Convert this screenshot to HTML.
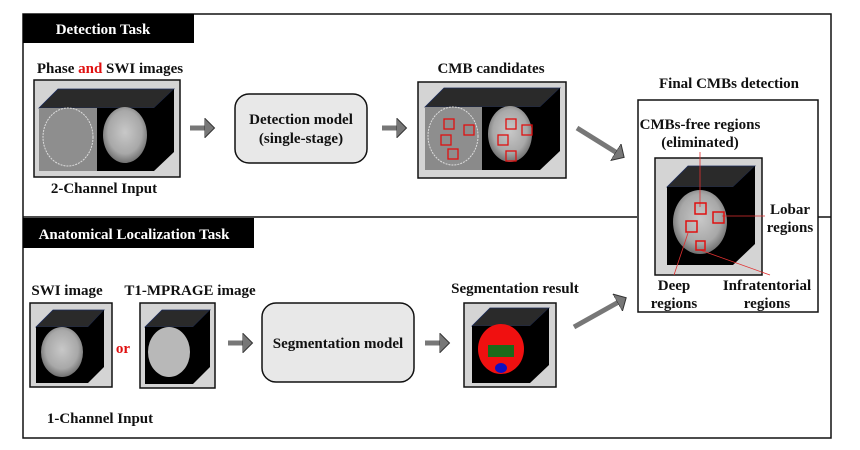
<!DOCTYPE html>
<html><head><meta charset="utf-8">
<style>
html,body{margin:0;padding:0;background:#fff;}
svg{display:block;}
text{font-family:"Liberation Serif",serif;font-weight:bold;fill:#111;}
</style></head><body>
<svg width="860" height="450" viewBox="0 0 860 450" xmlns="http://www.w3.org/2000/svg">
<defs>
<radialGradient id="br" cx="50%" cy="45%" r="55%">
<stop offset="0" stop-color="#c8c8c8"/><stop offset="0.7" stop-color="#a8a8a8"/><stop offset="1" stop-color="#707070"/>
</radialGradient>
<marker id="ah" markerWidth="4" markerHeight="4" refX="1.5" refY="2" orient="auto" markerUnits="strokeWidth">
<path d="M0,0 L2,2 L0,4 z" fill="#777" stroke="#333" stroke-width="0.2"/>
</marker>
</defs>

<rect x="23" y="14" width="808" height="424" fill="#fff" stroke="#111" stroke-width="1.5"/>
<line x1="23" y1="217" x2="637" y2="217" stroke="#111" stroke-width="1.5"/>
<line x1="818" y1="217" x2="831" y2="217" stroke="#111" stroke-width="1.5"/>

<rect x="23" y="14" width="171" height="29" fill="#000"/>
<text x="103" y="34" text-anchor="middle" font-size="15" style="fill:#fff">Detection Task</text>
<rect x="23" y="218" width="231" height="30" fill="#000"/>
<text x="134" y="239" text-anchor="middle" font-size="15" style="fill:#fff">Anatomical Localization Task</text>

<text x="110" y="73" text-anchor="middle" font-size="15">Phase <tspan style="fill:#e01010">and</tspan> SWI images</text>
<rect x="34" y="80" width="146" height="97" fill="#d4d4d4" stroke="#111" stroke-width="1.5"/>
<polygon points="39,108 58,89 174,89 154,108" fill="#2a2a2a" stroke="#1a2a5a" stroke-width="0.8"/>
<polygon points="154,108 174,89 174,152 154,171" fill="#000"/>
<rect x="39" y="108" width="58" height="63" fill="#8a8a8a"/>
<rect x="97" y="108" width="57" height="63" fill="#000"/>
<ellipse cx="68" cy="137" rx="25" ry="29" fill="#8e8e8e" stroke="#ddd" stroke-width="1" stroke-dasharray="2,1"/>
<ellipse cx="125" cy="135" rx="22" ry="28" fill="url(#br)"/>
<text x="104" y="193" text-anchor="middle" font-size="15">2-Channel Input</text>

<line x1="190" y1="128" x2="212" y2="128" stroke="#777" stroke-width="5" marker-end="url(#ah)"/>

<rect x="235" y="94" width="132" height="69" rx="14" fill="#e8e8e8" stroke="#111" stroke-width="1.5"/>
<text x="301" y="124" text-anchor="middle" font-size="15">Detection model</text>
<text x="301" y="143" text-anchor="middle" font-size="15">(single-stage)</text>

<line x1="382" y1="128" x2="404" y2="128" stroke="#777" stroke-width="5" marker-end="url(#ah)"/>

<text x="491" y="73" text-anchor="middle" font-size="15">CMB candidates</text>
<rect x="418" y="82" width="148" height="96" fill="#d4d4d4" stroke="#111" stroke-width="1.5"/>
<polygon points="425,107 444,88 560,88 540,107" fill="#2a2a2a" stroke="#1a2a5a" stroke-width="0.8"/>
<polygon points="540,107 560,88 560,151 540,170" fill="#000"/>
<rect x="425" y="107" width="57" height="63" fill="#8a8a8a"/>
<rect x="482" y="107" width="58" height="63" fill="#000"/>
<ellipse cx="453" cy="136" rx="25" ry="29" fill="#8e8e8e" stroke="#ddd" stroke-width="1" stroke-dasharray="2,1"/>
<ellipse cx="510" cy="134" rx="22" ry="28" fill="url(#br)"/>
<g fill="none" stroke="#e01010" stroke-width="1.3">
<rect x="444" y="119" width="10" height="10"/><rect x="464" y="125" width="10" height="10"/>
<rect x="441" y="135" width="10" height="10"/><rect x="448" y="149" width="10" height="10"/>
<rect x="506" y="119" width="10" height="10"/><rect x="522" y="125" width="10" height="10"/>
<rect x="498" y="135" width="10" height="10"/><rect x="506" y="151" width="10" height="10"/>
</g>

<line x1="577" y1="128" x2="622" y2="156" stroke="#777" stroke-width="5" marker-end="url(#ah)"/>
<line x1="574" y1="327" x2="624" y2="299" stroke="#777" stroke-width="5" marker-end="url(#ah)"/>

<text x="729" y="88" text-anchor="middle" font-size="15">Final CMBs detection</text>
<rect x="638" y="100" width="180" height="212" fill="#fff" stroke="#111" stroke-width="1.5"/>
<text x="700" y="129" text-anchor="middle" font-size="15">CMBs-free regions</text>
<text x="700" y="147" text-anchor="middle" font-size="15">(eliminated)</text>
<rect x="655" y="158" width="107" height="117" fill="#d4d4d4" stroke="#111" stroke-width="1.5"/>
<polygon points="667,187 688,166 755,166 733,187" fill="#2a2a2a" stroke="#1a2a5a" stroke-width="0.8"/>
<polygon points="733,187 755,166 755,244 733,265" fill="#000"/>
<rect x="667" y="187" width="66" height="78" fill="#000"/>
<ellipse cx="700" cy="222" rx="27" ry="32" fill="url(#br)"/>
<g stroke="#e03030" stroke-width="0.8">
<line x1="700" y1="152" x2="700" y2="207"/>
<line x1="722" y1="216" x2="765" y2="216"/>
<line x1="688" y1="233" x2="674" y2="275"/>
<line x1="700" y1="250" x2="770" y2="275"/>
</g>
<g fill="none" stroke="#e01010" stroke-width="1.5">
<rect x="695" y="203" width="11" height="11"/><rect x="713" y="212" width="11" height="11"/>
<rect x="686" y="221" width="11" height="11"/><rect x="696" y="241" width="9" height="9"/>
</g>
<text x="790" y="214" text-anchor="middle" font-size="15">Lobar</text>
<text x="790" y="232" text-anchor="middle" font-size="15">regions</text>
<text x="674" y="290" text-anchor="middle" font-size="15">Deep</text>
<text x="674" y="308" text-anchor="middle" font-size="15">regions</text>
<text x="767" y="290" text-anchor="middle" font-size="15">Infratentorial</text>
<text x="767" y="308" text-anchor="middle" font-size="15">regions</text>

<text x="67" y="295" text-anchor="middle" font-size="15">SWI image</text>
<text x="190" y="295" text-anchor="middle" font-size="15">T1-MPRAGE image</text>
<rect x="30" y="303" width="82" height="84" fill="#d4d4d4" stroke="#111" stroke-width="1.5"/>
<polygon points="36,327 53,310 104,310 88,327" fill="#2a2a2a" stroke="#1a2a5a" stroke-width="0.8"/>
<polygon points="88,327 104,310 104,367 88,383" fill="#000"/>
<rect x="36" y="327" width="52" height="56" fill="#000"/>
<ellipse cx="62" cy="352" rx="21" ry="25" fill="url(#br)"/>
<text x="123" y="353" text-anchor="middle" font-size="15" style="fill:#e01010">or</text>
<rect x="140" y="303" width="75" height="85" fill="#d4d4d4" stroke="#111" stroke-width="1.5"/>
<polygon points="145,327 162,310 210,310 193,327" fill="#2a2a2a" stroke="#1a2a5a" stroke-width="0.8"/>
<polygon points="193,327 210,310 210,367 193,384" fill="#000"/>
<rect x="145" y="327" width="48" height="57" fill="#000"/>
<ellipse cx="169" cy="352" rx="21" ry="25" fill="#b8b8b8"/>
<text x="100" y="423" text-anchor="middle" font-size="15">1-Channel Input</text>

<line x1="228" y1="343" x2="250" y2="343" stroke="#777" stroke-width="5" marker-end="url(#ah)"/>
<rect x="262" y="303" width="152" height="79" rx="14" fill="#e8e8e8" stroke="#111" stroke-width="1.5"/>
<text x="338" y="348" text-anchor="middle" font-size="15">Segmentation model</text>
<line x1="425" y1="343" x2="447" y2="343" stroke="#777" stroke-width="5" marker-end="url(#ah)"/>

<text x="515" y="293" text-anchor="middle" font-size="15">Segmentation result</text>
<rect x="464" y="303" width="92" height="84" fill="#d4d4d4" stroke="#111" stroke-width="1.5"/>
<polygon points="472,326 490,308 549,308 530,326" fill="#2a2a2a" stroke="#1a2a5a" stroke-width="0.8"/>
<polygon points="530,326 549,308 549,365 530,383" fill="#000"/>
<rect x="472" y="326" width="58" height="57" fill="#000"/>
<ellipse cx="501" cy="349" rx="23" ry="25" fill="#f01010"/>
<rect x="488" y="345" width="26" height="12" fill="#1a6a1a"/>
<ellipse cx="501" cy="368" rx="6" ry="5" fill="#1010c0"/>
</svg>
</body></html>
